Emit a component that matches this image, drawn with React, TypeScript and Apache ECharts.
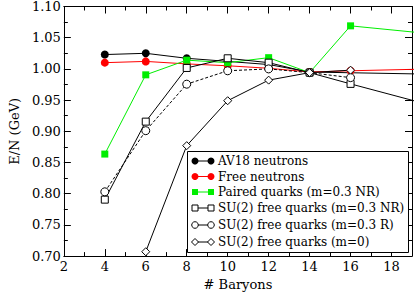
import React, { useEffect, useRef } from "react";
import * as echarts from "echarts";

const xTicks = [2, 4, 6, 8, 10, 12, 14, 16, 18];
const av18X = [4, 6, 8, 10, 12, 14, 20];
const av18Y = [1.023, 1.025, 1.017, 1.012, 1.007, 0.995, 0.9915];
const freeX = [4, 6, 8, 10, 12, 14, 16, 20];
const freeY = [1.010, 1.012, 1.008, 1.005, 1.001, 0.995, 0.997, 1.0];
const pairedX = [4, 6, 8, 10, 12, 14, 16, 20];
const pairedY = [0.8635, 0.9905, 1.014, 1.010, 1.018, 0.994, 1.069, 1.056];
const nrX = [4, 6, 8, 10, 12, 14, 16, 20];
const nrY = [0.7905, 0.9155, 1.0015, 1.017, 1.010, 0.994, 0.976, 0.941];
const rX = [4, 6, 8, 10, 12, 14, 16];
const rY = [0.803, 0.901, 0.9755, 0.997, 1.000, 0.994, 0.986];
const m0X = [6, 8, 10, 12, 14, 16];
const m0Y = [0.707, 0.877, 0.949, 0.982, 0.994, 0.998];

const legendNames = [
  "AV18 neutrons",
  "Free neutrons",
  "Paired quarks (m=0.3 NR)",
  "SU(2) free quarks (m=0.3 NR)",
  "SU(2) free quarks (m=0.3 R)",
  "SU(2) free quarks (m=0)",
];

const FONT = "DejaVu Serif";

function zip(xs: number[], ys: number[]) {
  return xs.map((x, i) => [x, ys[i]]);
}

export default function App() {
  const ref = useRef<HTMLDivElement>(null);
  useEffect(() => {
    document.body.style.margin = "0";
    if (!ref.current) return;
    const chart = echarts.init(ref.current, undefined, { renderer: "svg" });

    const legendRows = [161, 176.5, 192, 208, 225, 242];
    const legendEls: any[] = [
      {
        type: "rect",
        shape: { x: 187.5, y: 151.5, width: 221, height: 101 },
        style: { fill: "#fff", stroke: "#000", lineWidth: 1 },
        z: 10,
      },
    ];
    const kinds = ["fcircle", "fcircle", "fsquare", "osquare", "ocircle", "odiamond"];
    const colors = ["#000", "#ff0000", "#00ee00", "#000", "#000", "#000"];
    legendRows.forEach((y, i) => {
      const c = colors[i];
      legendEls.push({
        type: "line",
        shape: { x1: 195, y1: y, x2: 211, y2: y },
        style: { stroke: c, lineWidth: 1 },
        z: 11,
      });
      [195, 211].forEach((x) => {
        const k = kinds[i];
        if (k === "fcircle") {
          legendEls.push({ type: "circle", shape: { cx: x, cy: y, r: 3.5 }, style: { fill: c }, z: 12 });
        } else if (k === "fsquare") {
          legendEls.push({ type: "rect", shape: { x: x - 3, y: y - 3, width: 6, height: 6 }, style: { fill: c }, z: 12 });
        } else if (k === "osquare") {
          legendEls.push({ type: "rect", shape: { x: x - 3, y: y - 3, width: 6, height: 6 }, style: { fill: "#fff", stroke: c, lineWidth: 1 }, z: 12 });
        } else if (k === "ocircle") {
          legendEls.push({ type: "circle", shape: { cx: x, cy: y, r: 3.3 }, style: { fill: "#fff", stroke: c, lineWidth: 1 }, z: 12 });
        } else {
          legendEls.push({
            type: "polygon",
            shape: { points: [[x, y - 3.5], [x + 3.5, y], [x, y + 3.5], [x - 3.5, y]] },
            style: { fill: "#fff", stroke: c, lineWidth: 1 },
            z: 12,
          });
        }
      });
      legendEls.push({
        type: "text",
        x: 218,
        y: y,
        style: {
          text: legendNames[i],
          fontFamily: FONT,
          fontSize: 12,
          fill: "#000",
          verticalAlign: "middle",
          align: "left",
        },
        z: 12,
      });
    });

    const axisCommon = {
      axisLine: { lineStyle: { color: "#000", width: 1 } },
      axisTick: { inside: true, length: 7, lineStyle: { color: "#000" } },
      minorTick: { show: true, splitNumber: 2, length: 4, lineStyle: { color: "#000" } },
      splitLine: { show: false },
    };

    const lineSeries = (name: string, data: number[][], color: string, symbol: string, size: number, filled: boolean, dashed = false) => ({
      name,
      type: "line",
      xAxisIndex: 0,
      yAxisIndex: 0,
      data,
      clip: true,
      symbol,
      symbolSize: size,
      showAllSymbol: true,
      lineStyle: { color, width: 1, type: dashed ? [3, 2] : "solid" },
      itemStyle: filled
        ? { color, borderWidth: 0 }
        : { color: "#fff", borderColor: color, borderWidth: 1 },
      emphasis: { disabled: true },
    });

    chart.setOption({
      animation: false,
      backgroundColor: "#fff",
      grid: { left: 49, right: 2, top: 6, bottom: 34, containLabel: false },
      xAxis: [
        {
          type: "value",
          min: 2,
          max: 19,
          interval: 2,
          position: "bottom",
          ...axisCommon,
          name: "# Baryons",
          nameLocation: "middle",
          nameGap: 19,
          nameTextStyle: { fontFamily: FONT, fontSize: 13, color: "#000", verticalAlign: "top" },
          axisLabel: {
            fontFamily: FONT,
            fontSize: 13,
            color: "#000",
            margin: 4,
            formatter: (v: number) => (xTicks.includes(v) ? String(v) : ""),
          },
        },
        {
          type: "value",
          min: 2,
          max: 19,
          interval: 2,
          position: "top",
          ...axisCommon,
          axisLabel: { show: false },
        },
      ],
      yAxis: [
        {
          type: "value",
          min: 0.7,
          max: 1.1,
          interval: 0.05,
          position: "left",
          ...axisCommon,
          name: "E/N (GeV)",
          nameLocation: "middle",
          nameGap: 34,
          nameTextStyle: { fontFamily: FONT, fontSize: 13, color: "#000" },
          axisLabel: {
            fontFamily: FONT,
            fontSize: 13,
            color: "#000",
            margin: 3,
            formatter: (v: number) => v.toFixed(2),
          },
        },
        {
          type: "value",
          min: 0.7,
          max: 1.1,
          interval: 0.05,
          position: "right",
          ...axisCommon,
          axisLabel: { show: false },
        },
      ],
      series: [
        lineSeries(legendNames[0], zip(av18X, av18Y), "#000", "circle", 8, true),
        lineSeries(legendNames[1], zip(freeX, freeY), "#ff0000", "circle", 8, true),
        lineSeries(legendNames[2], zip(pairedX, pairedY), "#00ee00", "rect", 7, true),
        lineSeries(legendNames[3], zip(nrX, nrY), "#000", "rect", 7, false),
        lineSeries(legendNames[4], zip(rX, rY), "#000", "circle", 8, false, true),
        lineSeries(legendNames[5], zip(m0X, m0Y), "#000", "diamond", 8, false),
      ],
      graphic: legendEls,
    });
    return () => chart.dispose();
  }, []);
  return <div ref={ref} style={{ width: 415, height: 296 }} />;
}
